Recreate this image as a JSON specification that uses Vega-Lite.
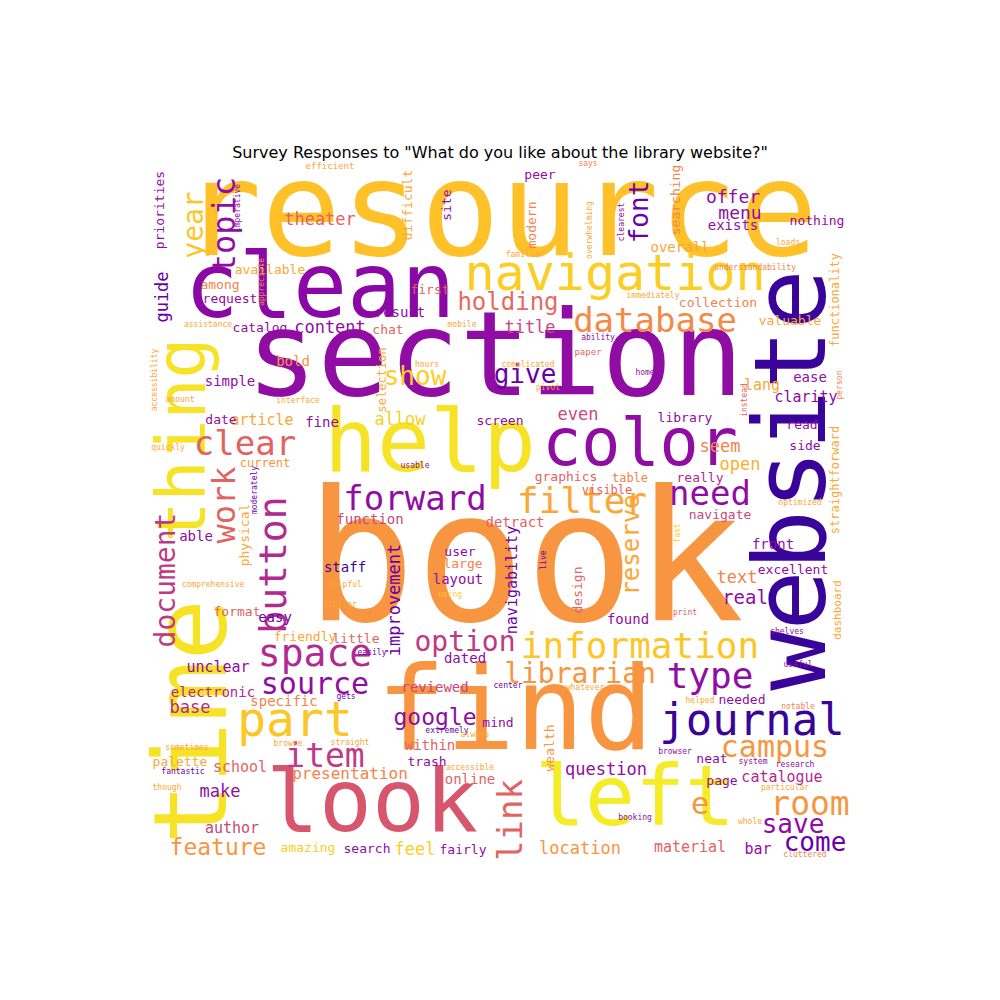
{
"$schema":"https://vega.github.io/schema/vega-lite/v6.json",
"width":700,"height":700,
"padding":{"left":150,"top":160,"right":0,"bottom":0},
"autosize":{"type":"none"},
"title":{"text":"Survey Responses to \"What do you like about the library website?\"","fontSize":16,"fontWeight":"normal","font":"DejaVu Sans","offset":-12,"color":"black"},
"config":{"view":{"stroke":null}},
"data":{"values":[
{"w":"resource","x":500,"y":215,"s":132,"a":0,"t":0.87},
{"w":"clean","x":320,"y":290,"s":90,"a":0,"t":0.28},
{"w":"section","x":495,"y":360,"s":118,"a":0,"t":0.3},
{"w":"navigation","x":615,"y":275,"s":50,"a":0,"t":0.9},
{"w":"database","x":655,"y":322,"s":34,"a":0,"t":0.72},
{"w":"website","x":795,"y":480,"s":100,"a":270,"t":0.08},
{"w":"help","x":430,"y":445,"s":88,"a":0,"t":0.95},
{"w":"color","x":640,"y":445,"s":65,"a":0,"t":0.3},
{"w":"book","x":525,"y":565,"s":182,"a":0,"t":0.75},
{"w":"time","x":195,"y":722,"s":102,"a":270,"t":0.95},
{"w":"thing","x":185,"y":440,"s":68,"a":270,"t":0.95},
{"w":"find","x":515,"y":715,"s":115,"a":0,"t":0.75},
{"w":"look","x":372,"y":805,"s":88,"a":0,"t":0.55},
{"w":"left","x":635,"y":800,"s":83,"a":0,"t":0.97},
{"w":"journal","x":752,"y":722,"s":44,"a":0,"t":0.08},
{"w":"information","x":640,"y":647,"s":36,"a":0,"t":0.88},
{"w":"forward","x":415,"y":500,"s":34,"a":0,"t":0.3},
{"w":"filter","x":582,"y":502,"s":36,"a":0,"t":0.8},
{"w":"need","x":710,"y":495,"s":34,"a":0,"t":0.3},
{"w":"clear","x":245,"y":445,"s":34,"a":0,"t":0.6},
{"w":"work","x":225,"y":505,"s":32,"a":270,"t":0.6},
{"w":"topic","x":225,"y":225,"s":32,"a":270,"t":0.3},
{"w":"year","x":195,"y":225,"s":28,"a":270,"t":0.88},
{"w":"document","x":167,"y":580,"s":28,"a":270,"t":0.45},
{"w":"button","x":275,"y":565,"s":38,"a":270,"t":0.4},
{"w":"part","x":295,"y":722,"s":48,"a":0,"t":0.88},
{"w":"space","x":315,"y":655,"s":38,"a":0,"t":0.4},
{"w":"source","x":315,"y":685,"s":30,"a":0,"t":0.3},
{"w":"option","x":465,"y":643,"s":28,"a":0,"t":0.45},
{"w":"librarian","x":580,"y":675,"s":28,"a":0,"t":0.75},
{"w":"type","x":710,"y":677,"s":36,"a":0,"t":0.3},
{"w":"campus","x":775,"y":748,"s":30,"a":0,"t":0.75},
{"w":"room","x":810,"y":805,"s":33,"a":0,"t":0.75},
{"w":"save","x":793,"y":825,"s":26,"a":0,"t":0.3},
{"w":"come","x":815,"y":843,"s":26,"a":0,"t":0.2},
{"w":"e","x":700,"y":805,"s":30,"a":0,"t":0.75},
{"w":"link","x":512,"y":820,"s":34,"a":270,"t":0.6},
{"w":"item","x":325,"y":757,"s":33,"a":0,"t":0.45},
{"w":"google","x":435,"y":718,"s":23,"a":0,"t":0.3},
{"w":"show","x":415,"y":377,"s":26,"a":0,"t":0.9},
{"w":"give","x":525,"y":375,"s":26,"a":0,"t":0.2},
{"w":"holding","x":508,"y":303,"s":24,"a":0,"t":0.62},
{"w":"font","x":640,"y":212,"s":26,"a":270,"t":0.2},
{"w":"offer","x":733,"y":198,"s":18,"a":0,"t":0.3},
{"w":"menu","x":740,"y":214,"s":18,"a":0,"t":0.3},
{"w":"exists","x":733,"y":226,"s":14,"a":0,"t":0.3},
{"w":"theater","x":320,"y":220,"s":17,"a":0,"t":0.6},
{"w":"content","x":330,"y":328,"s":17,"a":0,"t":0.3},
{"w":"result","x":400,"y":313,"s":14,"a":0,"t":0.3},
{"w":"title","x":530,"y":328,"s":17,"a":0,"t":0.5},
{"w":"reserve","x":632,"y":545,"s":24,"a":270,"t":0.8},
{"w":"article","x":262,"y":420,"s":15,"a":0,"t":0.8},
{"w":"allow","x":400,"y":420,"s":17,"a":0,"t":0.9},
{"w":"even","x":578,"y":415,"s":17,"a":0,"t":0.5},
{"w":"lang","x":762,"y":385,"s":15,"a":0,"t":0.8},
{"w":"seem","x":720,"y":447,"s":17,"a":0,"t":0.7},
{"w":"open","x":740,"y":465,"s":17,"a":0,"t":0.82},
{"w":"text","x":737,"y":578,"s":17,"a":0,"t":0.7},
{"w":"front","x":773,"y":545,"s":14,"a":0,"t":0.3},
{"w":"real","x":745,"y":598,"s":19,"a":0,"t":0.3},
{"w":"excellent","x":793,"y":570,"s":13,"a":0,"t":0.3},
{"w":"improvement","x":395,"y":600,"s":17,"a":270,"t":0.2},
{"w":"navigability","x":512,"y":580,"s":15,"a":270,"t":0.2},
{"w":"staff","x":345,"y":568,"s":14,"a":0,"t":0.1},
{"w":"layout","x":458,"y":580,"s":14,"a":0,"t":0.3},
{"w":"user","x":460,"y":552,"s":13,"a":0,"t":0.3},
{"w":"large","x":463,"y":564,"s":13,"a":0,"t":0.7},
{"w":"design","x":578,"y":590,"s":13,"a":270,"t":0.6},
{"w":"detract","x":515,"y":523,"s":14,"a":0,"t":0.6},
{"w":"function","x":370,"y":520,"s":14,"a":0,"t":0.5},
{"w":"physical","x":245,"y":535,"s":13,"a":270,"t":0.8},
{"w":"able","x":196,"y":537,"s":14,"a":0,"t":0.3},
{"w":"easy","x":275,"y":618,"s":14,"a":0,"t":0.2},
{"w":"friendly","x":305,"y":637,"s":13,"a":0,"t":0.8},
{"w":"format","x":237,"y":612,"s":13,"a":0,"t":0.6},
{"w":"little","x":356,"y":639,"s":13,"a":0,"t":0.6},
{"w":"unclear","x":218,"y":667,"s":15,"a":0,"t":0.3},
{"w":"electronic","x":213,"y":693,"s":14,"a":0,"t":0.4},
{"w":"base","x":190,"y":708,"s":17,"a":0,"t":0.4},
{"w":"specific","x":284,"y":702,"s":14,"a":0,"t":0.7},
{"w":"palette","x":180,"y":762,"s":13,"a":0,"t":0.8},
{"w":"school","x":240,"y":767,"s":15,"a":0,"t":0.6},
{"w":"make","x":220,"y":792,"s":17,"a":0,"t":0.3},
{"w":"presentation","x":350,"y":774,"s":16,"a":0,"t":0.7},
{"w":"author","x":232,"y":828,"s":15,"a":0,"t":0.5},
{"w":"feature","x":218,"y":848,"s":23,"a":0,"t":0.75},
{"w":"amazing","x":308,"y":848,"s":13,"a":0,"t":0.9},
{"w":"search","x":367,"y":849,"s":13,"a":0,"t":0.3},
{"w":"feel","x":415,"y":850,"s":17,"a":0,"t":0.9},
{"w":"fairly","x":463,"y":850,"s":13,"a":0,"t":0.3},
{"w":"location","x":580,"y":849,"s":17,"a":0,"t":0.75},
{"w":"material","x":690,"y":847,"s":15,"a":0,"t":0.6},
{"w":"bar","x":758,"y":849,"s":15,"a":0,"t":0.3},
{"w":"question","x":606,"y":770,"s":17,"a":0,"t":0.3},
{"w":"catalogue","x":782,"y":777,"s":15,"a":0,"t":0.4},
{"w":"page","x":722,"y":781,"s":13,"a":0,"t":0.3},
{"w":"neat","x":712,"y":759,"s":13,"a":0,"t":0.3},
{"w":"needed","x":742,"y":700,"s":13,"a":0,"t":0.3},
{"w":"online","x":470,"y":780,"s":14,"a":0,"t":0.6},
{"w":"within","x":430,"y":746,"s":14,"a":0,"t":0.6},
{"w":"trash","x":427,"y":762,"s":13,"a":0,"t":0.3},
{"w":"reviewed","x":435,"y":688,"s":14,"a":0,"t":0.5},
{"w":"dated","x":465,"y":659,"s":14,"a":0,"t":0.3},
{"w":"mind","x":498,"y":723,"s":13,"a":0,"t":0.3},
{"w":"found","x":628,"y":620,"s":14,"a":0,"t":0.3},
{"w":"wealth","x":550,"y":748,"s":13,"a":270,"t":0.75},
{"w":"guide","x":163,"y":297,"s":17,"a":270,"t":0.2},
{"w":"priorities","x":160,"y":210,"s":13,"a":270,"t":0.3},
{"w":"available","x":270,"y":270,"s":13,"a":0,"t":0.8},
{"w":"among","x":220,"y":285,"s":13,"a":0,"t":0.7},
{"w":"request","x":230,"y":299,"s":13,"a":0,"t":0.3},
{"w":"catalog","x":260,"y":328,"s":13,"a":0,"t":0.3},
{"w":"simple","x":230,"y":382,"s":14,"a":0,"t":0.3},
{"w":"bold","x":293,"y":362,"s":14,"a":0,"t":0.75},
{"w":"date","x":221,"y":420,"s":13,"a":0,"t":0.3},
{"w":"fine","x":322,"y":423,"s":14,"a":0,"t":0.3},
{"w":"current","x":265,"y":463,"s":12,"a":0,"t":0.75},
{"w":"screen","x":500,"y":421,"s":13,"a":0,"t":0.3},
{"w":"library","x":685,"y":418,"s":13,"a":0,"t":0.3},
{"w":"read","x":802,"y":425,"s":13,"a":0,"t":0.3},
{"w":"side","x":805,"y":446,"s":13,"a":0,"t":0.3},
{"w":"clarity","x":806,"y":397,"s":15,"a":0,"t":0.3},
{"w":"ease","x":810,"y":378,"s":14,"a":0,"t":0.3},
{"w":"valuable","x":790,"y":321,"s":13,"a":0,"t":0.8},
{"w":"collection","x":718,"y":303,"s":13,"a":0,"t":0.7},
{"w":"overall","x":680,"y":248,"s":14,"a":0,"t":0.8},
{"w":"searching","x":676,"y":200,"s":13,"a":270,"t":0.7},
{"w":"nothing","x":817,"y":221,"s":13,"a":0,"t":0.3},
{"w":"difficult","x":408,"y":205,"s":13,"a":270,"t":0.8},
{"w":"site","x":447,"y":205,"s":13,"a":270,"t":0.3},
{"w":"modern","x":532,"y":225,"s":13,"a":270,"t":0.7},
{"w":"peer","x":540,"y":175,"s":13,"a":0,"t":0.3},
{"w":"first","x":430,"y":290,"s":13,"a":0,"t":0.6},
{"w":"chat","x":388,"y":330,"s":13,"a":0,"t":0.6},
{"w":"selection","x":382,"y":380,"s":12,"a":270,"t":0.8},
{"w":"graphics","x":566,"y":477,"s":13,"a":0,"t":0.6},
{"w":"table","x":630,"y":478,"s":12,"a":0,"t":0.7},
{"w":"visible","x":607,"y":490,"s":12,"a":0,"t":0.6},
{"w":"really","x":700,"y":478,"s":13,"a":0,"t":0.4},
{"w":"navigate","x":720,"y":515,"s":13,"a":0,"t":0.5},
{"w":"functionality","x":835,"y":300,"s":12,"a":270,"t":0.8},
{"w":"straightforward","x":835,"y":480,"s":12,"a":270,"t":0.8},
{"w":"dashboard","x":838,"y":610,"s":11,"a":270,"t":0.8},
{"w":"efficient","x":330,"y":166,"s":9,"a":0,"t":0.8},
{"w":"says","x":588,"y":164,"s":8,"a":0,"t":0.7},
{"w":"usable","x":415,"y":466,"s":8,"a":0,"t":0.3},
{"w":"accessibility","x":155,"y":380,"s":8,"a":270,"t":0.8},
{"w":"assistance","x":208,"y":325,"s":8,"a":0,"t":0.8},
{"w":"appreciate","x":262,"y":282,"s":8,"a":270,"t":0.7},
{"w":"familiar","x":525,"y":255,"s":8,"a":0,"t":0.8},
{"w":"overwhelming","x":590,"y":230,"s":8,"a":270,"t":0.8},
{"w":"clearest","x":622,"y":222,"s":8,"a":270,"t":0.3},
{"w":"understandability","x":755,"y":268,"s":8,"a":0,"t":0.7},
{"w":"loads","x":788,"y":243,"s":8,"a":0,"t":0.8},
{"w":"immediately","x":653,"y":296,"s":8,"a":0,"t":0.8},
{"w":"mobile","x":462,"y":325,"s":8,"a":0,"t":0.8},
{"w":"ability","x":598,"y":338,"s":8,"a":0,"t":0.3},
{"w":"paper","x":588,"y":352,"s":9,"a":0,"t":0.6},
{"w":"hours","x":427,"y":365,"s":8,"a":0,"t":0.8},
{"w":"complicated","x":528,"y":365,"s":8,"a":0,"t":0.8},
{"w":"home","x":645,"y":373,"s":8,"a":0,"t":0.3},
{"w":"pivot","x":548,"y":388,"s":8,"a":0,"t":0.8},
{"w":"instead","x":745,"y":400,"s":8,"a":270,"t":0.6},
{"w":"person","x":840,"y":385,"s":8,"a":270,"t":0.7},
{"w":"interface","x":298,"y":401,"s":8,"a":0,"t":0.8},
{"w":"quickly","x":168,"y":448,"s":8,"a":0,"t":0.8},
{"w":"moderately","x":255,"y":490,"s":8,"a":270,"t":0.2},
{"w":"optimized","x":800,"y":503,"s":8,"a":0,"t":0.8},
{"w":"fast","x":678,"y":533,"s":8,"a":270,"t":0.9},
{"w":"live","x":544,"y":560,"s":8,"a":270,"t":0.2},
{"w":"helpful","x":345,"y":585,"s":8,"a":0,"t":0.8},
{"w":"similar","x":340,"y":605,"s":8,"a":0,"t":0.8},
{"w":"using","x":450,"y":595,"s":8,"a":0,"t":0.9},
{"w":"comprehensive","x":213,"y":585,"s":8,"a":0,"t":0.8},
{"w":"easily","x":372,"y":653,"s":8,"a":0,"t":0.2},
{"w":"print","x":685,"y":613,"s":8,"a":0,"t":0.6},
{"w":"shelves","x":787,"y":632,"s":8,"a":0,"t":0.3},
{"w":"useful","x":798,"y":665,"s":8,"a":0,"t":0.3},
{"w":"center","x":508,"y":686,"s":8,"a":0,"t":0.2},
{"w":"whatever","x":585,"y":688,"s":8,"a":0,"t":0.8},
{"w":"gets","x":346,"y":697,"s":8,"a":0,"t":0.2},
{"w":"helped","x":700,"y":701,"s":8,"a":0,"t":0.8},
{"w":"notable","x":798,"y":707,"s":8,"a":0,"t":0.7},
{"w":"browse","x":288,"y":744,"s":8,"a":0,"t":0.8},
{"w":"straight","x":350,"y":743,"s":8,"a":0,"t":0.8},
{"w":"extremely","x":447,"y":731,"s":8,"a":0,"t":0.2},
{"w":"always","x":475,"y":735,"s":8,"a":0,"t":0.8},
{"w":"sometimes","x":187,"y":748,"s":8,"a":0,"t":0.8},
{"w":"fantastic","x":183,"y":772,"s":8,"a":0,"t":0.2},
{"w":"browser","x":675,"y":752,"s":8,"a":0,"t":0.3},
{"w":"system","x":753,"y":762,"s":8,"a":0,"t":0.3},
{"w":"research","x":795,"y":765,"s":8,"a":0,"t":0.3},
{"w":"particular","x":785,"y":788,"s":8,"a":0,"t":0.8},
{"w":"though","x":167,"y":788,"s":8,"a":0,"t":0.8},
{"w":"booking","x":635,"y":818,"s":8,"a":0,"t":0.3},
{"w":"whole","x":750,"y":822,"s":8,"a":0,"t":0.8},
{"w":"cluttered","x":805,"y":855,"s":8,"a":0,"t":0.7},
{"w":"accessible","x":470,"y":768,"s":8,"a":0,"t":0.8},
{"w":"imperative","x":238,"y":208,"s":8,"a":270,"t":0.3},
{"w":"amount","x":180,"y":400,"s":8,"a":0,"t":0.8}
]},
"mark":{"type":"text","font":"DejaVu Sans Mono","align":"center","baseline":"middle"},
"encoding":{
"x":{"field":"x","type":"quantitative","scale":{"domain":[150,850]},"axis":null},
"y":{"field":"y","type":"quantitative","scale":{"domain":[160,860],"reverse":true},"axis":null},
"text":{"field":"w"},
"size":{"field":"s","type":"quantitative","scale":{"type":"linear","domain":[0,200],"range":[0,200]},"legend":null},
"angle":{"field":"a","type":"quantitative","scale":null},
"color":{"field":"t","type":"quantitative","scale":{"scheme":"plasma","domain":[0,1]},"legend":null}
}
}
